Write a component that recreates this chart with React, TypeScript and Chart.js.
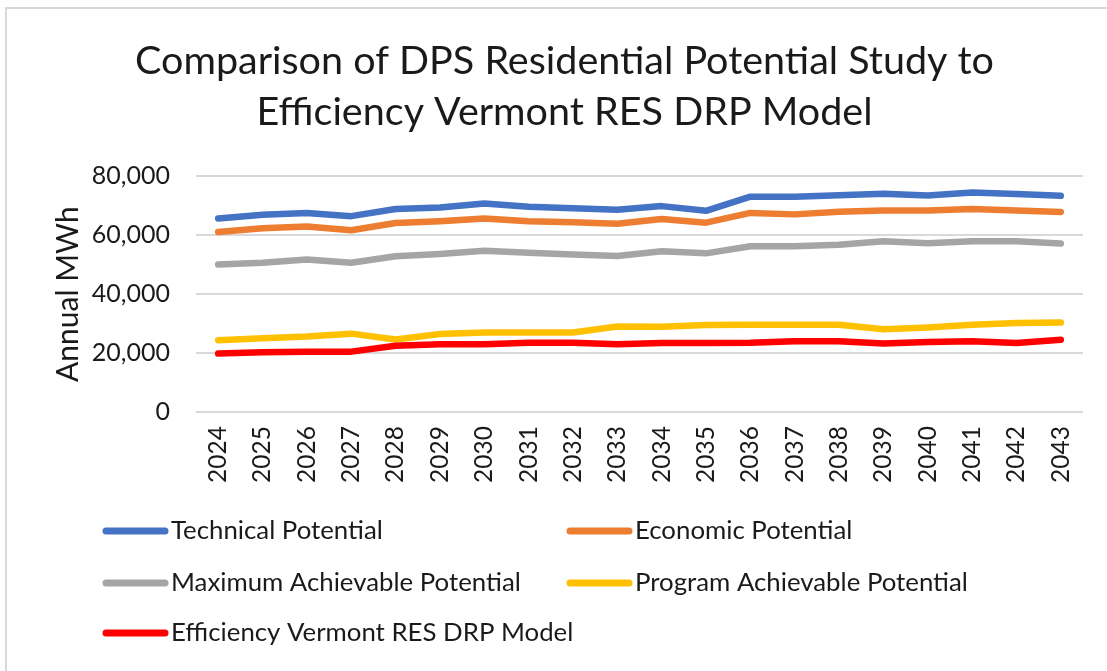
import React, { useEffect, useRef } from "react";
import { Chart, registerables } from "chart.js";

Chart.register(...registerables);

const years = ["2024","2025","2026","2027","2028","2029","2030","2031","2032","2033","2034","2035","2036","2037","2038","2039","2040","2041","2042","2043"];

const technical = [65600, 66900, 67500, 66400, 68800, 69300, 70700, 69600, 69100, 68600, 69800, 68200, 73000, 73000, 73500, 74000, 73400, 74400, 73900, 73300];
const economic = [61000, 62300, 62900, 61600, 64100, 64700, 65600, 64700, 64300, 63800, 65400, 64200, 67500, 67000, 67900, 68300, 68300, 68800, 68300, 67800];
const maxAchievable = [50000, 50600, 51700, 50600, 52800, 53600, 54700, 54000, 53400, 52900, 54500, 53800, 56200, 56200, 56700, 57900, 57200, 57900, 57900, 57100];
const programAchievable = [24400, 25000, 25600, 26600, 24600, 26500, 27000, 27000, 27000, 29000, 28900, 29500, 29600, 29600, 29600, 28100, 28700, 29600, 30200, 30400];
const evModel = [19850, 20300, 20500, 20500, 22500, 23000, 23000, 23500, 23500, 23000, 23400, 23400, 23500, 24000, 24000, 23300, 23800, 24000, 23400, 24500];

const seriesNames = [
  "Technical Potential",
  "Economic Potential",
  "Maximum Achievable Potential",
  "Program Achievable Potential",
  "Efficiency Vermont RES DRP Model",
];
const seriesColors = ["#4472C4", "#ED7D31", "#A5A5A5", "#FFC000", "#FF0000"];
const seriesValues = [technical, economic, maxAchievable, programAchievable, evModel];

const titleLines = [
  "Comparison of DPS Residential Potential Study to",
  "Efficiency Vermont RES DRP Model",
];
const yAxisTitle = "Annual MWh";

const FONT = "Lato, 'Open Sans', sans-serif";

const legendPlugin = {
  id: "customLegend",
  afterDraw(chart: any) {
    const ctx = chart.ctx;
    const cols = [103, 567];
    const rows = [531, 583, 633];
    ctx.save();
    chart.data.datasets.forEach((ds: any, i: number) => {
      const x = cols[i % 2];
      const y = rows[Math.floor(i / 2)];
      ctx.strokeStyle = ds.borderColor;
      ctx.lineWidth = 7;
      ctx.lineCap = "round";
      ctx.beginPath();
      ctx.moveTo(x + 3, y);
      ctx.lineTo(x + 62, y);
      ctx.stroke();
      ctx.fillStyle = "#1a1a1a";
      ctx.font = `25.8px ${FONT}`;
      ctx.textBaseline = "middle";
      ctx.textAlign = "left";
      ctx.fillText(ds.label, x + 68, y);
    });
    // border
    ctx.strokeStyle = "#d9d9d9";
    ctx.lineWidth = 2;
    ctx.beginPath();
    ctx.moveTo(6, 700);
    ctx.lineTo(6, 8);
    ctx.lineTo(1120, 8);
    ctx.stroke();
    ctx.restore();
  },
};

export default function App() {
  const ref = useRef<HTMLCanvasElement | null>(null);
  useEffect(() => {
    document.body.style.margin = "0";
    const canvas = ref.current!;
    const chart = new Chart(canvas, {
      type: "line",
      data: {
        labels: years,
        datasets: seriesValues.map((vals, i) => ({
          label: seriesNames[i],
          data: vals,
          borderColor: seriesColors[i],
          backgroundColor: seriesColors[i],
          borderWidth: 6.5,
          borderCapStyle: "round" as const,
          borderJoinStyle: "round" as const,
          pointRadius: 0,
          tension: 0,
          order: 5 - i,
        })),
      },
      options: {
        animation: false,
        responsive: false,
        maintainAspectRatio: false,
        layout: { padding: { left: 46, right: 24, top: 0, bottom: 174 } },
        plugins: {
          legend: { display: false },
          tooltip: { enabled: false },
          title: {
            display: true,
            text: titleLines,
            color: "#1a1a1a",
            font: { family: FONT, size: 39.5, weight: "normal", lineHeight: 51 / 39.5 },
            padding: { top: 36, bottom: 38 },
          },
        },
        scales: {
          x: {
            offset: true,
            grid: { display: false, drawTicks: false },
            border: { display: false },
            ticks: {
              color: "#1a1a1a",
              font: { family: FONT, size: 24.5 },
              minRotation: 90,
              maxRotation: 90,
              padding: 14,
              autoSkip: false,
            },
          },
          y: {
            min: 0,
            max: 80000,
            afterFit: (scale: any) => {
              scale.width = 150;
            },
            grid: { color: "#d9d9d9", lineWidth: 2, drawTicks: false },
            border: { display: false },
            ticks: {
              stepSize: 20000,
              color: "#1a1a1a",
              font: { family: FONT, size: 25 },
              padding: 26,
              callback: (v: any) => Number(v).toLocaleString("en-US"),
            },
            title: {
              display: true,
              text: yAxisTitle,
              color: "#1a1a1a",
              font: { family: FONT, size: 30 },
              padding: { top: 4, bottom: 0 },
            },
          },
        },
      },
      plugins: [legendPlugin],
    });
    return () => chart.destroy();
  }, []);
  return (
    <div style={{ width: 1107, height: 671, position: "relative", background: "#fff" }}>
      <canvas ref={ref} width={1107} height={671} style={{ display: "block" }} />
    </div>
  );
}
